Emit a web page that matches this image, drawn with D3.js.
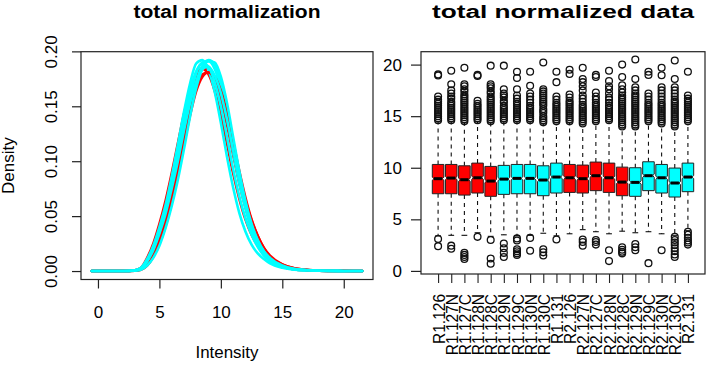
<!DOCTYPE html>
<html><head><meta charset="utf-8">
<script src="https://cdn.jsdelivr.net/npm/d3@7"></script>
<style>
body{margin:0;background:#fff}
svg{display:block}
text{font-family:"Liberation Sans",Arial,Helvetica,sans-serif;fill:#000}
</style>
</head><body>
<svg id="c" width="708" height="365"></svg>
<script>
// ---------- Left panel data: density curves ----------
const densityX = [-0.5,1,2,3,3.5,4,4.5,5,5.5,6,6.5,7,7.5,8,8.5,9,9.5,10,10.5,11,11.5,12,12.5,13,13.5,14,15,16,17,18,20,21.5];
const redA  = [0,0,0,0.0005,0.002,0.008,0.019,0.034,0.053,0.077,0.104,0.132,0.157,0.176,0.185,0.184,0.174,0.157,0.133,0.106,0.08,0.058,0.04,0.027,0.018,0.011,0.005,0.002,0.001,0.0004,0.0001,0];
const redC  = [0,0,0,0.0008,0.003,0.012,0.025,0.043,0.064,0.089,0.116,0.143,0.165,0.179,0.184,0.179,0.164,0.142,0.116,0.089,0.066,0.047,0.033,0.023,0.015,0.01,0.004,0.0015,0.0007,0.0003,0.0001,0];
const cyanA = [0,0,0,0.0005,0.002,0.008,0.018,0.032,0.05,0.073,0.099,0.13,0.158,0.18,0.19,0.191,0.184,0.166,0.139,0.108,0.08,0.057,0.038,0.025,0.016,0.01,0.004,0.0015,0.0008,0.0003,0.0001,0];
const cyanB = [0,0,0,0.0003,0.0015,0.006,0.014,0.026,0.043,0.064,0.089,0.118,0.148,0.172,0.187,0.192,0.188,0.172,0.147,0.116,0.087,0.062,0.042,0.028,0.018,0.011,0.0045,0.0018,0.0008,0.0003,0.0001,0];
const cyanC = [0,0,0,0.0008,0.003,0.011,0.023,0.04,0.06,0.086,0.115,0.145,0.171,0.189,0.192,0.183,0.163,0.135,0.104,0.076,0.053,0.036,0.024,0.016,0.011,0.007,0.003,0.0012,0.0006,0.0002,0.0001,0];
const redB  = [0,0,0,0.0003,0.0012,0.005,0.013,0.025,0.041,0.062,0.087,0.115,0.142,0.164,0.177,0.181,0.177,0.164,0.144,0.118,0.091,0.067,0.047,0.032,0.021,0.013,0.006,0.0025,0.001,0.0004,0.0001,0];
const redD  = [0,0,0,0.0004,0.0018,0.007,0.016,0.029,0.046,0.068,0.094,0.122,0.148,0.168,0.179,0.181,0.174,0.158,0.136,0.111,0.086,0.064,0.046,0.032,0.021,0.014,0.006,0.0025,0.0011,0.0005,0.0002,0];
const cyanD = [0,0,0,0.0006,0.0025,0.009,0.019,0.034,0.052,0.075,0.1,0.128,0.153,0.172,0.184,0.186,0.178,0.162,0.138,0.11,0.084,0.061,0.042,0.028,0.018,0.012,0.005,0.002,0.001,0.0004,0.0001,0];
const cyanE = [0,0,0,0.0003,0.0012,0.005,0.012,0.023,0.039,0.059,0.083,0.111,0.141,0.167,0.184,0.191,0.19,0.177,0.153,0.122,0.091,0.064,0.043,0.028,0.018,0.011,0.004,0.0015,0.0007,0.0003,0.0001,0];
const cyanF = [0,0,0,0.0006,0.0025,0.009,0.02,0.036,0.056,0.08,0.107,0.137,0.164,0.182,0.189,0.186,0.172,0.15,0.122,0.093,0.068,0.048,0.033,0.022,0.014,0.009,0.004,0.0015,0.0007,0.0003,0.0001,0];
const densityCurves = [redA, redC, cyanA, cyanB, cyanC, redB, redD, cyanD, cyanE, cyanF];
const densityColors = ["red","red","cyan","cyan","cyan","red","red","cyan","cyan","cyan"];
const densityXTicks = [0,5,10,15,20];
const densityYTicks = [0,0.05,0.10,0.15,0.20];

// ---------- Right panel data: boxplots ----------
const sampleNames = ["R1.126","R1.127N","R1.127C","R1.128N","R1.128C","R1.129N","R1.129C","R1.130N","R1.130C","R1.131",
                     "R2.126","R2.127N","R2.127C","R2.128N","R2.128C","R2.129N","R2.129C","R2.130N","R2.130C","R2.131"];
const sampleColors = ["red","red","red","red","red","cyan","cyan","cyan","cyan","cyan",
                      "red","red","red","red","red","cyan","cyan","cyan","cyan","cyan"];
const q1Vals  = [7.48,7.48,7.35,7.55,7.23,7.42,7.48,7.48,7.29,7.55,7.61,7.55,7.78,7.61,7.29,7.23,7.78,7.55,7.16,7.68];
const medVals = [8.94,9.0,8.84,9.03,8.71,8.9,8.97,8.97,8.81,9.1,9.03,8.94,9.23,9.03,8.61,8.58,9.23,9.03,8.52,9.1];
const q3Vals  = [10.32,10.32,10.19,10.45,10.13,10.23,10.32,10.32,10.19,10.45,10.32,10.26,10.55,10.45,10.06,10.0,10.58,10.32,9.97,10.45];
const loWhisk = [3.4,3.45,3.45,3.7,3.35,3.5,3.4,3.45,3.65,3.4,3.6,4.0,3.8,3.6,3.85,3.7,3.8,3.6,3.45,3.9];
const hiWhisk = [14.45,14.45,14.35,14.45,14.35,14.45,14.45,14.45,14.25,14.35,14.35,14.15,14.35,14.45,13.85,13.85,14.35,14.15,13.85,14.35];
const hiOutliers = [
  [14.6,14.8,15.0,15.2,15.4,15.6,15.8,16.0,16.2,16.4,16.6,16.9,18.95,19.05],
  [14.6,14.8,15.0,15.2,15.4,15.6,15.8,16.0,16.2,16.4,16.7,16.9,17.2,17.5,18.1,19.4],
  [14.5,14.7,14.9,15.1,15.3,15.5,15.7,15.9,16.1,16.3,16.5,16.7,16.9,17.1,17.4,17.6,17.9,18.1,19.7],
  [14.6,14.8,15.0,15.2,15.4,15.6,15.8,16.0,16.2,16.5,18.9,19.0],
  [14.5,14.7,14.9,15.1,15.3,15.5,15.7,15.9,16.1,16.3,16.5,16.7,16.9,17.2,17.4,17.7,17.9,18.1,19.9],
  [14.6,14.8,15.0,15.2,15.4,15.6,15.8,16.0,16.3,16.5,16.8,17.0,17.2,17.6,19.9],
  [14.6,14.8,15.0,15.2,15.4,15.6,15.8,16.0,16.2,16.4,16.7,17.0,17.6,18.7,19.3],
  [14.6,14.8,15.0,15.2,15.4,15.6,15.8,16.0,16.3,16.6,16.9,17.2,17.95,19.3],
  [14.4,14.6,14.8,15.0,15.3,15.5,15.7,16.0,16.2,16.4,16.6,16.8,17.0,17.2,17.4,17.6,20.2],
  [14.5,14.7,14.9,15.1,15.3,15.5,15.7,15.9,16.1,16.3,16.6,16.9,18.3,19.3],
  [14.5,14.7,14.9,15.1,15.3,15.5,15.7,15.9,16.1,16.3,16.5,16.8,17.1,19.1,19.5],
  [14.3,14.5,14.7,14.9,15.1,15.3,15.5,15.7,15.9,16.1,16.4,16.7,17.0,17.5,17.9,18.3,18.6,19.7],
  [14.5,14.7,14.9,15.1,15.3,15.5,15.7,15.9,16.1,16.3,16.6,16.9,17.3,18.8,19.0],
  [14.6,14.8,15.0,15.2,15.4,15.6,15.8,16.0,16.3,16.6,16.8,17.2,17.6,17.9,18.4,19.4],
  [14.0,14.2,14.4,14.6,14.8,15.0,15.2,15.4,15.6,15.8,16.0,16.2,16.4,16.6,16.8,17.0,17.3,17.6,18.0,18.8,20.0],
  [14.0,14.2,14.4,14.6,14.8,15.0,15.2,15.4,15.6,15.8,16.0,16.2,16.4,16.6,16.8,17.0,17.2,17.5,17.8,18.6,20.5],
  [14.5,14.7,14.9,15.1,15.3,15.5,15.7,15.9,16.1,16.3,16.6,16.9,17.2,19.0,19.3],
  [14.3,14.5,14.7,14.9,15.1,15.3,15.5,15.7,15.9,16.1,16.3,16.6,16.9,17.2,17.5,17.8,18.97,19.7],
  [14.0,14.2,14.4,14.6,14.8,15.0,15.2,15.4,15.6,15.8,16.0,16.2,16.4,16.6,16.9,17.2,17.5,17.8,18.6,20.4],
  [14.5,14.7,14.9,15.1,15.3,15.5,15.7,15.9,16.1,16.3,16.5,16.7,17.0,19.3]
];
const loOutliers = [
  [3.1,2.4],[2.45,2.15],[1.75,1.55,1.35,1.15],[3.3],[3.0,1.2,0.7],
  [2.65,2.2,1.75,1.35],[3.15,2.95,2.1,1.9,1.7,1.55],[3.2,1.95],[2.1,1.8,1.5],[3.05],
  [],[3.05,2.8,2.45],[3.0,2.8,2.55],[2.0,0.95],[2.3,2.05,1.85,1.7],
  [2.6,2.3,2.0],[0.75],[2.0],[3.3,3.0,2.75,2.5,2.2,1.9,1.6,1.35],[3.8,3.5,3.2,2.95,2.75,2.55]
];
const boxYTicks = [0,5,10,15,20];

// ---------- drawing ----------
const svg = d3.select("#c");
const FS = 17;
const colorMap = {red:"#ff0000", cyan:"#00ffff"};

// LEFT PANEL
const L = {x0:81, x1:373, y0:51.7, y1:279.5};
const xL = d3.scaleLinear().domain([-1.38,22.38]).range([L.x0,L.x1]);
const yL = d3.scaleLinear().domain([-0.0077,0.1997]).range([L.y1,L.y0]);

const line = d3.line().x((d,i)=>xL(densityX[i])).y(d=>yL(d)).curve(d3.curveMonotoneX);
const gLines = svg.append("g");
densityCurves.forEach((c,k)=>{
  gLines.append("path").attr("d",line(c)).attr("fill","none")
    .attr("stroke",colorMap[densityColors[k]]).attr("stroke-width",2.6)
    .attr("stroke-linejoin","round").attr("stroke-linecap","round");
});

svg.append("rect").attr("x",L.x0).attr("y",L.y0).attr("width",L.x1-L.x0).attr("height",L.y1-L.y0)
  .attr("fill","none").attr("stroke","#222").attr("stroke-width",1.2);

const axXL = svg.append("g").attr("transform",`translate(0,${L.y1})`)
  .call(d3.axisBottom(xL).tickValues(densityXTicks).tickSize(9).tickFormat(d3.format("d")));
axXL.select(".domain").remove();
axXL.selectAll("line").attr("stroke","#222").attr("stroke-width",1.2);
axXL.selectAll("text").attr("font-size",FS).attr("y",26.5).attr("dy","0.71em").attr("font-family",null);

const axYL = svg.append("g").attr("transform",`translate(${L.x0},0)`)
  .call(d3.axisLeft(yL).tickValues(densityYTicks).tickSize(9).tickFormat(d3.format(".2f")));
axYL.select(".domain").remove();
axYL.selectAll("line").attr("stroke","#222").attr("stroke-width",1.2);
axYL.selectAll("text").attr("font-size",FS).attr("font-family",null)
  .attr("transform","rotate(-90)").attr("x",0).attr("y",-24).attr("dy",null).attr("text-anchor","middle");

svg.append("text").attr("x",(L.x0+L.x1)/2).attr("y",18).attr("text-anchor","middle")
  .attr("font-size",17.5).attr("font-weight","bold")
  .attr("textLength",187).attr("lengthAdjust","spacingAndGlyphs").text("total normalization");
svg.append("text").attr("x",(L.x0+L.x1)/2).attr("y",358).attr("text-anchor","middle")
  .attr("font-size",16).attr("textLength",63).attr("lengthAdjust","spacingAndGlyphs").text("Intensity");
svg.append("text").attr("transform",`translate(14,${(L.y0+L.y1)/2}) rotate(-90)`).attr("text-anchor","middle")
  .attr("font-size",FS).text("Density");

// RIGHT PANEL
const R = {x0:421, x1:705, y0:51.7, y1:274};
const xR = d3.scaleLinear().domain([-0.3,21.3]).range([R.x0,R.x1]);
const yR = d3.scaleLinear().domain([-0.3,21.25]).range([R.y1,R.y0]);
const unit = xR(1)-xR(0);
const hw = unit*0.44;
const notchH = 0.15;
const notchIn = 0.72;

const gBox = svg.append("g");
sampleNames.forEach((name,i)=>{
  const cx = xR(i+1);
  const g = gBox.append("g");
  g.append("line").attr("x1",cx).attr("x2",cx).attr("y1",yR(q3Vals[i])).attr("y2",yR(hiWhisk[i]))
    .attr("stroke","#111").attr("stroke-dasharray","4,4").attr("stroke-width",1.1);
  g.append("line").attr("x1",cx).attr("x2",cx).attr("y1",yR(q1Vals[i])).attr("y2",yR(loWhisk[i]))
    .attr("stroke","#111").attr("stroke-dasharray","4,4").attr("stroke-width",1.1);
  [hiWhisk[i],loWhisk[i]].forEach(v=>{
    g.append("line").attr("x1",cx-hw/2).attr("x2",cx+hw/2).attr("y1",yR(v)).attr("y2",yR(v))
      .attr("stroke","#111").attr("stroke-width",1.1);
  });
  const m = medVals[i];
  const pts = [
    [cx-hw,yR(q3Vals[i])],[cx+hw,yR(q3Vals[i])],[cx+hw,yR(m+notchH)],[cx+hw*notchIn,yR(m)],
    [cx+hw,yR(m-notchH)],[cx+hw,yR(q1Vals[i])],[cx-hw,yR(q1Vals[i])],[cx-hw,yR(m-notchH)],
    [cx-hw*notchIn,yR(m)],[cx-hw,yR(m+notchH)]
  ];
  g.append("path").attr("d","M"+pts.map(p=>p.join(",")).join("L")+"Z")
    .attr("fill",colorMap[sampleColors[i]]).attr("stroke","#222").attr("stroke-width",1);
  g.append("line").attr("x1",cx-hw*notchIn).attr("x2",cx+hw*notchIn).attr("y1",yR(m)).attr("y2",yR(m))
    .attr("stroke","#000").attr("stroke-width",3);
  hiOutliers[i].concat(loOutliers[i]).forEach(v=>{
    g.append("circle").attr("cx",cx).attr("cy",yR(v)).attr("r",3.4)
      .attr("fill","none").attr("stroke","#111").attr("stroke-width",1.3);
  });
});

svg.append("rect").attr("x",R.x0).attr("y",R.y0).attr("width",R.x1-R.x0).attr("height",R.y1-R.y0)
  .attr("fill","none").attr("stroke","#222").attr("stroke-width",1.2);

const axYR = svg.append("g").attr("transform",`translate(${R.x0},0)`)
  .call(d3.axisLeft(yR).tickValues(boxYTicks).tickSize(10).tickPadding(9).tickFormat(d3.format("d")));
axYR.select(".domain").remove();
axYR.selectAll("line").attr("stroke","#222").attr("stroke-width",1.2);
axYR.selectAll("text").attr("font-size",FS).attr("font-family",null);

const axXR = svg.append("g").attr("transform",`translate(0,${R.y1})`)
  .call(d3.axisBottom(xR).tickValues(d3.range(1,sampleNames.length+1)).tickSize(9).tickFormat(d=>sampleNames[d-1]));
axXR.select(".domain").remove();
axXR.selectAll("line").attr("stroke","#222").attr("stroke-width",1.1);
axXR.selectAll("text").attr("font-size",15.5).attr("font-family",null)
  .attr("transform","scale(1.08,1) rotate(-90)").attr("x",-20).attr("y",0).attr("dy","0.36em").attr("text-anchor","end");

svg.append("text").attr("x",(R.x0+R.x1)/2).attr("y",18).attr("text-anchor","middle")
  .attr("font-size",17.5).attr("font-weight","bold")
  .attr("textLength",262).attr("lengthAdjust","spacingAndGlyphs").text("total normalized data");
</script>
</body></html>
